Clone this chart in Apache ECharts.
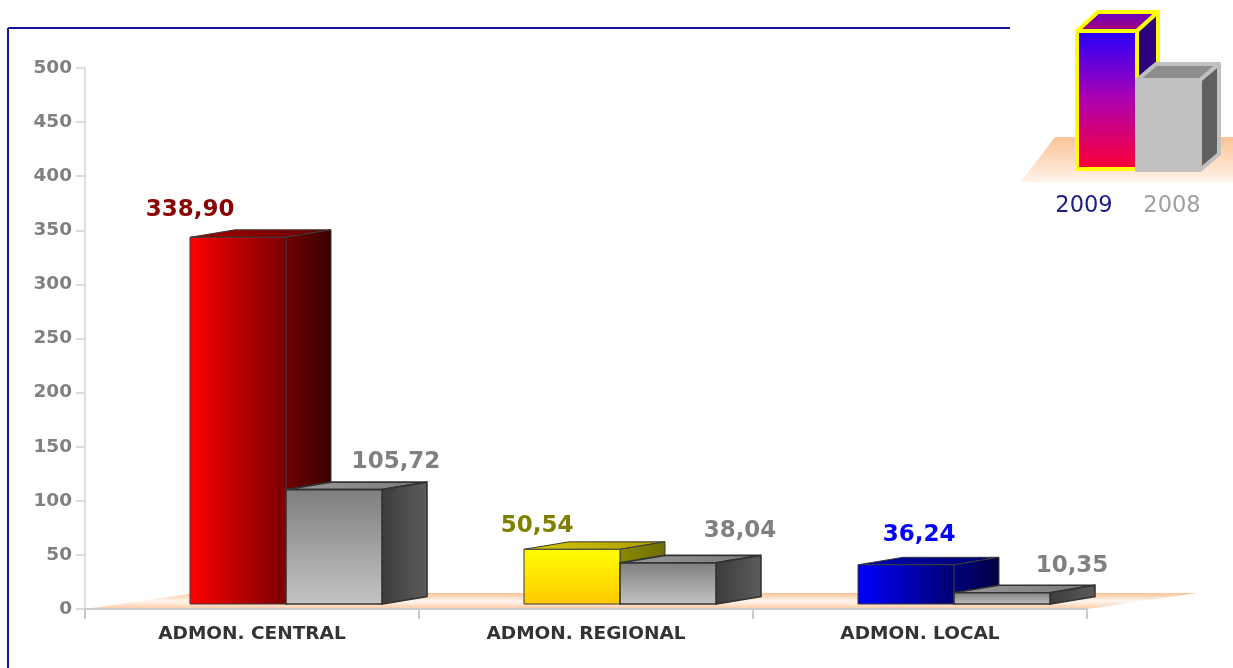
<!DOCTYPE html>
<html>
<head>
<meta charset="utf-8">
<script src="https://cdn.jsdelivr.net/npm/echarts@6/dist/echarts.min.js"></script>
<style>
html, body { margin: 0; padding: 0; background: #fff; }
#chart { width: 1233px; height: 668px; }
</style>
</head>
<body>
<div id="chart"></div>
<script>
// values
const categories = ["ADMON. CENTRAL", "ADMON. REGIONAL", "ADMON. LOCAL"]
const values2009 = [338.90, 50.54, 36.24]
const values2008 = [105.72, 38.04, 10.35]
const yMin = 0
const yMax = 500
const yStep = 50
const legendNames = ["2009", "2008"]

// face colours of the 2009 boxes, one per category
const faces2009 = [
    { front: ["#ff0000", "#780000"], frontVertical: false, side: ["#700000", "#3a0000"], top: ["#a00000", "#6c0000"], label: "#8b0000" },
    { front: ["#ffff00", "#ffc800"], frontVertical: true, side: ["#8a8a00", "#6e6e00"], top: ["#d8c800", "#a89800"], label: "#808000" },
    { front: ["#0000ff", "#000070"], frontVertical: false, side: ["#000080", "#000040"], top: ["#0000b0", "#000070"], label: "#0000ff" }
]
const faces2008 = { front: ["#7e7e7e", "#c4c4c4"], frontVertical: true, side: ["#3c3c3c", "#5c5c5c"], top: ["#9a9a9a", "#7a7a7a"], label: "#808080" }

// where each value label sits against its box (px from front-left / front-top)
const labelShift2009 = [[0, -27], [13, -23], [61, -30]]
const labelShift2008 = [[110, -28], [120, -32], [118, -27]]

function fmt(v){
    return v.toFixed(2).replace(".", ",")
}

function grad(c, vertical){
    return new echarts.graphic.LinearGradient(0, 0, vertical ? 0 : 1, vertical ? 1 : 0, [
        { offset: 0, color: c[0] },
        { offset: 1, color: c[1] }
    ])
}

function boxRenderer(which){
    return function(params, api){
        let i = api.value(0)
        let v = api.value(1)
        let base = api.coord([i, 0])
        let top = api.coord([i, v])
        let band = api.size([1, 0])[0]
        let w = band * 0.2874
        let dx = band * 0.1347
        let dy = 7.5
        let lift = 5
        let mid = base[0] + band * 0.1018
        let x0 = which === 0 ? mid - w : mid
        let x1 = x0 + w
        let yb = base[1] - lift
        let yt = top[1] - lift
        let f = which === 0 ? faces2009[i] : faces2008
        let shift = which === 0 ? labelShift2009[i] : labelShift2008[i]
        let stroke = which === 0 ? "#3a3a3a" : "#333"
        let lw = which === 0 ? 1 : 1.6
        return {
            type: "group",
            children: [
                {
                    type: "polygon",
                    shape: { points: [[x0, yt], [x1, yt], [x1 + dx, yt - dy], [x0 + dx, yt - dy]] },
                    style: { fill: grad(f.top, false), stroke: stroke, lineWidth: lw }
                },
                {
                    type: "polygon",
                    shape: { points: [[x1, yt], [x1 + dx, yt - dy], [x1 + dx, yb - dy], [x1, yb]] },
                    style: { fill: grad(f.side, false), stroke: stroke, lineWidth: lw }
                },
                {
                    type: "rect",
                    shape: { x: x0, y: yt, width: w, height: yb - yt },
                    style: { fill: grad(f.front, f.frontVertical), stroke: stroke, lineWidth: lw }
                },
                {
                    type: "text",
                    style: {
                        text: fmt(v),
                        x: x0 + shift[0],
                        y: yt + shift[1],
                        align: "center",
                        verticalAlign: "middle",
                        font: "bold 23px 'DejaVu Sans'",
                        fill: f.label
                    }
                }
            ]
        }
    }
}

let myChart = echarts.init(document.getElementById("chart"))

let floorFill = new echarts.graphic.LinearGradient(0, 0, 0, 1, [
    { offset: 0, color: "#fbc398" },
    { offset: 0.5, color: "#fff6ef" },
    { offset: 1, color: "#fbc9a4" }
])
let legendFloorFill = new echarts.graphic.LinearGradient(0, 0, 0, 1, [
    { offset: 0, color: "#fbc396" },
    { offset: 1, color: "#fff3ea" }
])

let option = {
    animation: false,
    grid: { left: 85, right: 146, top: 68, bottom: 59 },
    xAxis: {
        type: "category",
        data: categories,
        axisLine: { lineStyle: { color: "#cacaca", width: 2 } },
        axisTick: { show: true, length: 10, lineStyle: { color: "#cacaca", width: 2 } },
        axisLabel: { color: "#333", fontWeight: "bold", fontSize: 18.5, fontFamily: "DejaVu Sans", margin: 16 }
    },
    yAxis: {
        type: "value",
        min: yMin,
        max: yMax,
        interval: yStep,
        axisLine: { show: true, lineStyle: { color: "#d4d4d4", width: 1.5 } },
        axisTick: { show: true, length: 9, lineStyle: { color: "#d4d4d4", width: 1.5 } },
        splitLine: { show: false },
        axisLabel: { color: "#808080", fontWeight: "bold", fontSize: 18.5, fontFamily: "DejaVu Sans", margin: 13 }
    },
    graphic: [
        // outer frame, only top and left edges show
        { type: "line", shape: { x1: 8, y1: 28, x2: 1010, y2: 28 }, style: { stroke: "#14149a", lineWidth: 2 } },
        { type: "line", shape: { x1: 8, y1: 28, x2: 8, y2: 668 }, style: { stroke: "#14149a", lineWidth: 2 } },
        // floor under the boxes
        {
            type: "polygon", z: -1,
            shape: { points: [[85, 609], [1087, 609], [1198, 593], [196, 593]] },
            style: { fill: floorFill }
        },
        // legend picture
        {
            type: "polygon",
            shape: { points: [[1055, 137], [1270, 137], [1236, 182], [1021, 182]] },
            style: { fill: legendFloorFill }
        },
        {
            type: "polygon",
            shape: { points: [[1077, 31], [1137, 31], [1158, 12], [1098, 12]] },
            style: { fill: new echarts.graphic.LinearGradient(0, 0, 0, 1, [{ offset: 0, color: "#5a00d0" }, { offset: 1, color: "#b4006a" }]), stroke: "#ffff00", lineWidth: 4, lineJoin: "round" }
        },
        {
            type: "polygon",
            shape: { points: [[1137, 31], [1158, 12], [1158, 150], [1137, 169]] },
            style: { fill: "#2c0080", stroke: "#ffff00", lineWidth: 4, lineJoin: "round" }
        },
        {
            type: "rect",
            shape: { x: 1077, y: 31, width: 60, height: 138 },
            style: { fill: new echarts.graphic.LinearGradient(0, 0, 0, 1, [{ offset: 0, color: "#2200ff" }, { offset: 0.5, color: "#b000b0" }, { offset: 1, color: "#ff0030" }]), stroke: "#ffff00", lineWidth: 4, lineJoin: "round" }
        },
        {
            type: "polygon",
            shape: { points: [[1137, 80], [1200, 80], [1219, 64], [1156, 64]] },
            style: { fill: "#8e8e8e", stroke: "#c0c0c0", lineWidth: 4, lineJoin: "round" }
        },
        {
            type: "polygon",
            shape: { points: [[1200, 80], [1219, 64], [1219, 154], [1200, 170]] },
            style: { fill: "#606060", stroke: "#c0c0c0", lineWidth: 4, lineJoin: "round" }
        },
        {
            type: "rect",
            shape: { x: 1137, y: 80, width: 63, height: 90 },
            style: { fill: "#c0c0c0", stroke: "#c0c0c0", lineWidth: 4, lineJoin: "round" }
        },
        {
            type: "text",
            style: { text: legendNames[0], x: 1084, y: 206, align: "center", verticalAlign: "middle", font: "22.5px 'DejaVu Sans'", fill: "#1a1a8a" }
        },
        {
            type: "text",
            style: { text: legendNames[1], x: 1172, y: 206, align: "center", verticalAlign: "middle", font: "22.5px 'DejaVu Sans'", fill: "#a0a0a0" }
        }
    ],
    series: [
        {
            name: legendNames[0],
            type: "custom",
            renderItem: boxRenderer(0),
            data: values2009.map((v, i) => [i, v])
        },
        {
            name: legendNames[1],
            type: "custom",
            renderItem: boxRenderer(1),
            data: values2008.map((v, i) => [i, v])
        }
    ]
}
myChart.setOption(option)
</script>
</body>
</html>
